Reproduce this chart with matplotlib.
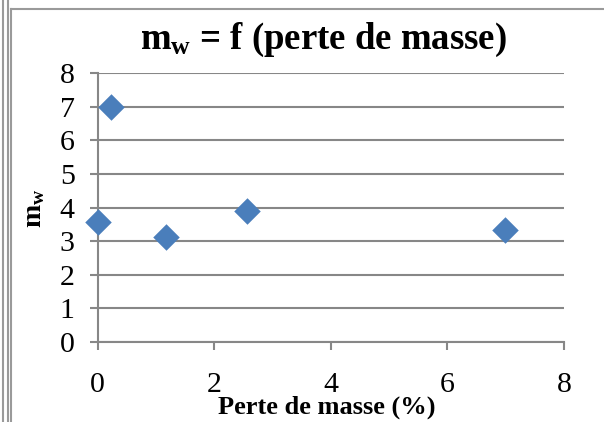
import matplotlib
matplotlib.use("Agg")
import matplotlib.pyplot as plt
from matplotlib.lines import Line2D

plt.rcParams['font.family'] = ['Liberation Serif', 'DejaVu Serif']
plt.rcParams['mathtext.fontset'] = 'custom'
plt.rcParams['mathtext.rm'] = 'Liberation Serif'
plt.rcParams['mathtext.bf'] = 'Liberation Serif:bold'

# data
perte_masse = [0.0, 0.23, 1.17, 2.56, 6.99]
mw = [3.58, 7.0, 3.13, 3.9, 3.33]
x_ticks = [0, 2, 4, 6, 8]
y_ticks = [0, 1, 2, 3, 4, 5, 6, 7, 8]

W, H = 604, 422
fig = plt.figure(figsize=(W / 100, H / 100), dpi=100)
ax = fig.add_axes([97.5 / W, 1 - 342 / H, (564 - 97.5) / W, (342 - 73) / H])

grey = '#878787'
ax.scatter(perte_masse, mw, marker='D', s=13.5 ** 2, color='#4a7ebb',
           zorder=3, clip_on=False, linewidths=0)

ax.set_xlim(0, 8)
ax.set_ylim(0, 8)
ax.set_xticks(x_ticks)
ax.set_yticks(y_ticks)
ax.yaxis.grid(True, color=grey, linewidth=1.5)
ax.set_axisbelow(True)
for s in ['top', 'right']:
    ax.spines[s].set_visible(False)
for s in ['left', 'bottom']:
    ax.spines[s].set_color(grey)
    ax.spines[s].set_linewidth(1.5)
ax.tick_params(axis='both', colors=grey, width=1.5, length=5.5, labelsize=21.5,
               labelcolor='black')
ax.tick_params(axis='x', pad=16)
ax.tick_params(axis='y', pad=11)

fig.text(323.5 / W, 1 - 40 / H, r'$\mathbf{m_w}$' + ' = f (perte de masse)',
         ha='center', va='center', fontsize=26.5, fontweight='bold')
fig.text(327 / W, 1 - 407 / H, 'Perte de masse (%)', ha='center', va='center',
         fontsize=19, fontweight='bold')
fig.text(35 / W, 1 - 208 / H, r'$\mathbf{m_w}$', ha='center', va='center',
         fontsize=20, rotation=90)

# chart frame
fr = '#9a9a9a'
for xs, ys in [([3, 3], [0, H]), ([8, 8], [0, H]), ([11, 11], [9, H]),
               ([11, W], [9, 9])]:
    fig.add_artist(Line2D([x / W for x in xs], [1 - y / H for y in ys],
                          color=fr, linewidth=1.5))

fig.savefig('out.png', dpi=100)
